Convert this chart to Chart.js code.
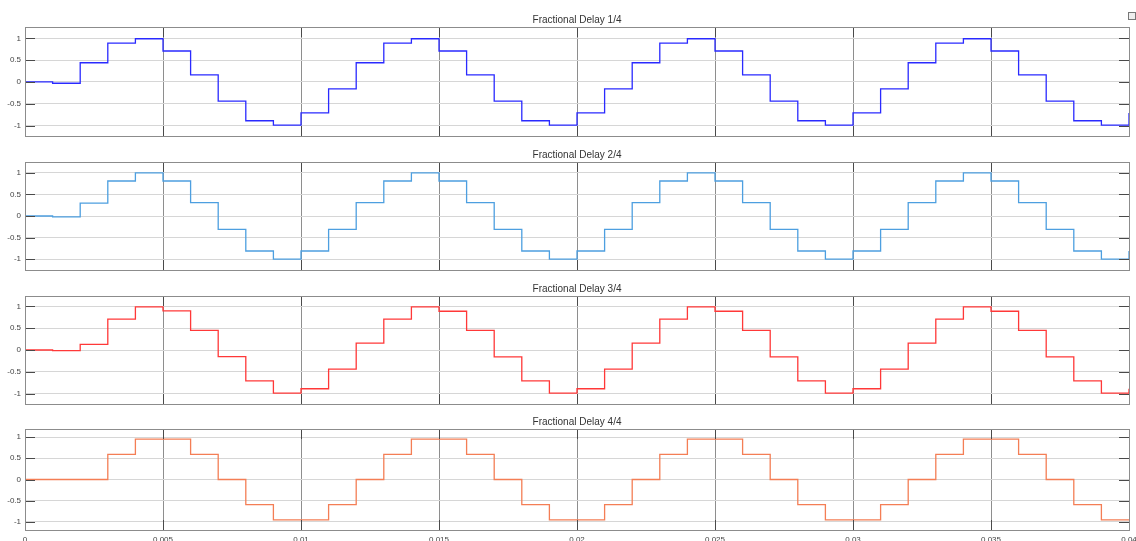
<!DOCTYPE html>
<html>
<head>
<meta charset="utf-8">
<title>Fractional Delay</title>
<script src="https://cdn.jsdelivr.net/npm/chart.js@4/dist/chart.umd.min.js"></script>
<style>
  html, body { margin: 0; padding: 0; background: #fff; overflow: hidden; width: 1136px; height: 541px; }
  .panel { position: absolute; left: 0; width: 1136px; }
  .icon { position: absolute; left: 1128px; top: 12px; width: 6px; height: 6px; border: 1px solid #777; background: #eee; }
</style>
</head>
<body>
<div class="panel" style="top:14px;height:124px"><canvas id="p1" width="1136" height="124"></canvas></div>
<div class="panel" style="top:149px;height:123px"><canvas id="p2" width="1136" height="123"></canvas></div>
<div class="panel" style="top:283px;height:123px"><canvas id="p3" width="1136" height="123"></canvas></div>
<div class="panel" style="top:416px;height:128px"><canvas id="p4" width="1136" height="128"></canvas></div>
<div class="icon"></div>
<script>
// Sample instants (s), 1 kHz sampling
const times = [0, 0.001, 0.002, 0.003, 0.004, 0.005, 0.006, 0.007, 0.008, 0.009,
  0.010, 0.011, 0.012, 0.013, 0.014, 0.015, 0.016, 0.017, 0.018, 0.019,
  0.020, 0.021, 0.022, 0.023, 0.024, 0.025, 0.026, 0.027, 0.028, 0.029,
  0.030, 0.031, 0.032, 0.033, 0.034, 0.035, 0.036, 0.037, 0.038, 0.039, 0.040];

// Filter outputs for each fractional delay
const delay1 = [0, -0.03,
  0.44, 0.89, 0.99, 0.71, 0.16, -0.44, -0.89, -0.99, -0.71, -0.16,
  0.44, 0.89, 0.99, 0.71, 0.16, -0.44, -0.89, -0.99, -0.71, -0.16,
  0.44, 0.89, 0.99, 0.71, 0.16, -0.44, -0.89, -0.99, -0.71, -0.16,
  0.44, 0.89, 0.99, 0.71, 0.16, -0.44, -0.89, -0.99, -0.71];
const delay2 = [0, -0.02,
  0.30, 0.81, 1.0, 0.81, 0.31, -0.31, -0.81, -1.0, -0.81, -0.31,
  0.31, 0.81, 1.0, 0.81, 0.31, -0.31, -0.81, -1.0, -0.81, -0.31,
  0.31, 0.81, 1.0, 0.81, 0.31, -0.31, -0.81, -1.0, -0.81, -0.31,
  0.31, 0.81, 1.0, 0.81, 0.31, -0.31, -0.81, -1.0, -0.81];
const delay3 = [0, -0.015,
  0.13, 0.71, 0.99, 0.90, 0.45, -0.15, -0.71, -0.99, -0.89, -0.44,
  0.16, 0.71, 0.99, 0.89, 0.45, -0.16, -0.71, -0.99, -0.89, -0.44,
  0.16, 0.71, 0.99, 0.89, 0.45, -0.16, -0.71, -0.99, -0.89, -0.44,
  0.16, 0.71, 0.99, 0.89, 0.45, -0.16, -0.71, -0.99, -0.89];
const delay4 = [0, 0, 0,
  0.59, 0.95, 0.95, 0.59, 0, -0.59, -0.95, -0.95, -0.59, 0,
  0.59, 0.95, 0.95, 0.59, 0, -0.59, -0.95, -0.95, -0.59, 0,
  0.59, 0.95, 0.95, 0.59, 0, -0.59, -0.95, -0.95, -0.59, 0,
  0.59, 0.95, 0.95, 0.59, 0, -0.59, -0.95, -0.95];

const titles = ['Fractional Delay 1/4', 'Fractional Delay 2/4', 'Fractional Delay 3/4', 'Fractional Delay 4/4'];
const colors = ['#2a2aff', '#4d9fe0', '#ff3838', '#f47e55'];

const xTicks = [0, 0.005, 0.01, 0.015, 0.02, 0.025, 0.03, 0.035, 0.04];
const xTickLabels = ['0', '0.005', '0.01', '0.015', '0.02', '0.025', '0.03', '0.035', '0.04'];
const yTicks = [-1, -0.5, 0, 0.5, 1];
const yTickLabels = ['-1', '-0.5', '0', '0.5', '1'];

const yLimits = [[-1.24, 1.26], [-1.25, 1.25], [-1.24, 1.24], [-1.19, 1.19]];

// Axes box plus inward tick marks on all four sides
const boxPlugin = {
  id: 'axesBox',
  afterDatasetsDraw(chart) {
    const { ctx, chartArea: a, scales } = chart;
    ctx.save();
    ctx.lineWidth = 1;
    ctx.strokeStyle = '#4a4a4a';
    ctx.beginPath();
    yTicks.forEach(v => {
      const y = Math.round(scales.y.getPixelForValue(v)) + 0.5;
      ctx.moveTo(a.left, y); ctx.lineTo(a.left + 10, y);
      ctx.moveTo(a.right - 10, y); ctx.lineTo(a.right, y);
    });
    xTicks.forEach(v => {
      const x = Math.round(scales.x.getPixelForValue(v)) + 0.5;
      ctx.moveTo(x, a.top); ctx.lineTo(x, a.top + 10);
      ctx.moveTo(x, a.bottom - 10); ctx.lineTo(x, a.bottom);
    });
    ctx.stroke();
    ctx.strokeStyle = '#8c8c8c';
    ctx.strokeRect(Math.round(a.left) + 0.5, Math.round(a.top) + 0.5,
      Math.round(a.right - a.left), Math.round(a.bottom - a.top));
    ctx.restore();
  }
};

function makePanel(id, idx, values, showX) {
  const yr = yLimits[idx];
  return new Chart(document.getElementById(id), {
    type: 'line',
    data: {
      datasets: [{
        data: times.map((t, i) => ({ x: t, y: values[i] })),
        borderColor: colors[idx],
        borderWidth: 1.3,
        pointRadius: 0,
        stepped: true,
        tension: 0
      }]
    },
    options: {
      responsive: false,
      maintainAspectRatio: false,
      animation: false,
      layout: { padding: { left: 0, right: 7, top: 0, bottom: 0 } },
      plugins: {
        legend: { display: false },
        tooltip: { enabled: false },
        title: {
          display: true,
          text: titles[idx],
          fullSize: false,
          color: '#333',
          font: { family: 'Liberation Sans', size: 10, weight: 'normal', lineHeight: 1.2 },
          padding: { top: 0, bottom: 1 }
        }
      },
      scales: {
        x: {
          type: 'linear',
          min: 0,
          max: 0.04,
          afterBuildTicks: s => { s.ticks = xTicks.map(v => ({ value: v })); },
          afterFit: s => {
            s.height = showX ? 14 : 2;
            s.paddingLeft = 0; s.paddingRight = 0;
          },
          grid: { color: '#8e8e8e', lineWidth: 1, drawTicks: false },
          border: { display: false },
          ticks: {
            display: showX,
            autoSkip: false,
            maxRotation: 0,
            padding: 5,
            color: '#444',
            font: { family: 'Liberation Sans', size: 8 },
            callback: (v, i) => xTickLabels[i]
          }
        },
        y: {
          min: yr[0],
          max: yr[1],
          afterBuildTicks: s => { s.ticks = yTicks.map(v => ({ value: v })); },
          afterFit: s => {
            s.width = 25;
            s.paddingTop = 0; s.paddingBottom = 0;
          },
          grid: { color: '#d6d6d6', lineWidth: 1, drawTicks: false },
          border: { display: false },
          ticks: {
            autoSkip: false,
            padding: 4,
            color: '#444',
            font: { family: 'Liberation Sans', size: 8 },
            callback: (v, i) => yTickLabels[i]
          }
        }
      }
    },
    plugins: [boxPlugin]
  });
}

makePanel('p1', 0, delay1, false);
makePanel('p2', 1, delay2, false);
makePanel('p3', 2, delay3, false);
makePanel('p4', 3, delay4, true);
</script>
</body>
</html>
